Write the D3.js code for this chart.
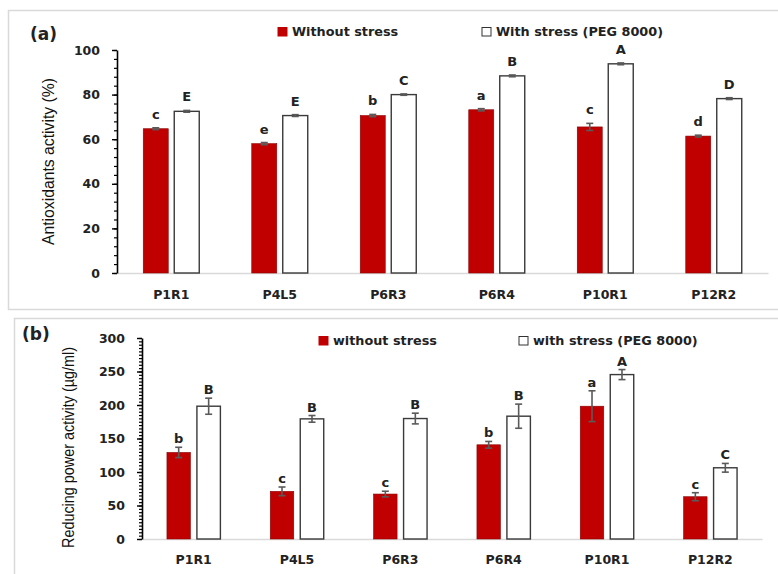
<!DOCTYPE html>
<html>
<head>
<meta charset="utf-8">
<script src="https://cdn.jsdelivr.net/npm/d3@7"></script>
<style>
  body { margin: 0; background: #fff; }
  svg { display: block; }
  .bold { font-family: "DejaVu Sans", "Open Sans", sans-serif; font-weight: bold; fill: #222; }
  .ylab { font-family: "Liberation Sans Narrow", "Liberation Sans", "Open Sans", sans-serif; fill: #111; }
</style>
</head>
<body>
<svg id="chart" width="778" height="574"></svg>
<script>
// ---------------- DATA ----------------
const categories = ["P1R1", "P4L5", "P6R3", "P6R4", "P10R1", "P12R2"];
const seriesA = ["Without stress", "With stress (PEG 8000)"];
const seriesB = ["without stress", "with stress (PEG 8000)"];

// Panel (a): Antioxidants activity (%)
const aWithout     = [64.7, 58.0, 70.6, 73.2, 65.5, 61.4];
const aWithoutErr  = [0.4, 0.5, 0.5, 0.5, 1.6, 0.4];
const aWith        = [72.5, 70.6, 80.0, 88.4, 93.8, 78.2];
const aWithErr     = [0.4, 0.4, 0.3, 0.4, 0.4, 0.4];
const aWithoutLetters = ["c", "e", "b", "a", "c", "d"];
const aWithLetters    = ["E", "E", "C", "B", "A", "D"];
const aTicks = [0, 20, 40, 60, 80, 100];

// Panel (b): Reducing power activity (µg/ml)
const bWithout     = [129.2, 71.1, 67.1, 140.6, 198.2, 63.1];
const bWithoutErr  = [7.7, 6.5, 4.2, 5.0, 23.0, 6.0];
const bWith        = [198.2, 179.3, 179.8, 183.3, 245.4, 106.3];
const bWithErr     = [12.0, 5.0, 8.0, 18.0, 7.5, 6.5];
const bWithoutLetters = ["b", "c", "c", "b", "a", "c"];
const bWithLetters    = ["B", "B", "B", "B", "A", "C"];
const bTicks = [0, 50, 100, 150, 200, 250, 300];

const RED = "#C00000";
const svg = d3.select("#chart");

// panel borders
svg.append("rect").attr("x", 8.5).attr("y", 10.5).attr("width", 800).attr("height", 299)
  .attr("fill", "none").attr("stroke", "#d9d9d9").attr("stroke-width", 1.5);
svg.append("rect").attr("x", 14.5).attr("y", 318.5).attr("width", 800).attr("height", 300)
  .attr("fill", "none").attr("stroke", "#d9d9d9").attr("stroke-width", 1.5);

function panel(cfg) {
  const g = svg.append("g");
  const x = d3.scaleBand().domain(categories).range(cfg.xRange);
  const xs = d3.scaleBand().domain([0, 1]).range([0, x.bandwidth()])
    .paddingInner(cfg.pi).paddingOuter(cfg.po);
  const y = d3.scaleLinear().domain(cfg.domain).range(cfg.yRange);

  // x axis baseline (gray) + labels
  const xAxis = d3.axisBottom(x).tickSize(0).tickPadding(cfg.xPad);
  const xg = g.append("g").attr("transform", `translate(0,${cfg.yRange[0]})`).call(xAxis);
  xg.select(".domain").attr("stroke", "#d9d9d9").attr("stroke-width", 1.5);
  xg.selectAll("text").attr("class", "bold").style("font-size", "12.5px");

  const rows = categories.map((c, i) => ({
    c,
    vals: [
      { s: 0, v: cfg.without[i], e: cfg.withoutErr[i], l: cfg.withoutLetters[i] },
      { s: 1, v: cfg.with[i], e: cfg.withErr[i], l: cfg.withLetters[i] }
    ]
  }));

  const grp = g.selectAll(".grp").data(rows).join("g")
    .attr("transform", d => `translate(${x(d.c)},0)`);

  grp.selectAll("rect").data(d => d.vals).join("rect")
    .attr("x", d => xs(d.s))
    .attr("width", xs.bandwidth())
    .attr("y", d => y(d.v))
    .attr("height", d => y(0) - y(d.v))
    .attr("fill", d => d.s === 0 ? RED : "#fff")
    .attr("stroke", d => d.s === 0 ? "#8a0000" : "#3a3a3a")
    .attr("stroke-width", d => d.s === 0 ? 0.6 : 1.4);

  // error bars
  const eb = grp.selectAll(".eb").data(d => d.vals).join("g").attr("class", "eb")
    .attr("stroke", "#5a5a5a").attr("stroke-width", 1.6);
  eb.append("line")
    .attr("x1", d => xs(d.s) + xs.bandwidth() / 2).attr("x2", d => xs(d.s) + xs.bandwidth() / 2)
    .attr("y1", d => y(d.v - d.e)).attr("y2", d => y(d.v + d.e));
  eb.append("line")
    .attr("x1", d => xs(d.s) + xs.bandwidth() / 2 - 3.5).attr("x2", d => xs(d.s) + xs.bandwidth() / 2 + 3.5)
    .attr("y1", d => y(d.v + d.e)).attr("y2", d => y(d.v + d.e));
  eb.append("line")
    .attr("x1", d => xs(d.s) + xs.bandwidth() / 2 - 3.5).attr("x2", d => xs(d.s) + xs.bandwidth() / 2 + 3.5)
    .attr("y1", d => y(d.v - d.e)).attr("y2", d => y(d.v - d.e));

  // letters
  grp.selectAll(".lt").data(d => d.vals).join("text").attr("class", "bold lt")
    .attr("x", d => xs(d.s) + xs.bandwidth() / 2)
    .attr("y", d => y(d.v + d.e) - cfg.letterGap)
    .attr("text-anchor", "middle")
    .style("font-size", "13px")
    .text(d => d.l);

  // y axis: minor ticks
  const minor = d3.range(cfg.domain[0], cfg.domain[1] + 0.001, cfg.minorStep);
  const ym = g.append("g").attr("transform", `translate(${cfg.xRange[0]},0)`)
    .call(d3.axisLeft(y).tickValues(minor).tickSize(3).tickFormat(""));
  ym.select(".domain").remove();
  ym.selectAll("line").attr("stroke", "#000").attr("stroke-width", 1.2);
  // y axis: major
  const ya = g.append("g").attr("transform", `translate(${cfg.xRange[0]},0)`)
    .call(d3.axisLeft(y).tickValues(cfg.ticks).tickSize(5).tickSizeOuter(0).tickPadding(12));
  ya.select(".domain").attr("stroke", "#000").attr("stroke-width", 1.6);
  ya.selectAll("line").attr("stroke", "#000").attr("stroke-width", 1.4);
  ya.selectAll("text").attr("class", "bold").style("font-size", "12.5px");

  // y label
  g.append("text").attr("class", "ylab")
    .attr("transform", `translate(${cfg.yLabX},${(cfg.yRange[0] + cfg.yRange[1]) / 2 + cfg.yLabShift}) rotate(-90)`)
    .attr("text-anchor", "middle").attr("dy", "0.35em")
    .attr("textLength", cfg.yLabLen).attr("lengthAdjust", "spacingAndGlyphs")
    .style("font-size", "16px")
    .text(cfg.yLabel);

  // panel tag
  g.append("text").attr("class", "bold").attr("x", cfg.tag[0]).attr("y", cfg.tag[1])
    .style("font-size", "17px").text(cfg.tagText);

  // legend
  cfg.series.forEach((s, i) => {
    const lx = cfg.legend[i], ly = cfg.legendY;
    g.append("rect").attr("x", lx).attr("y", ly - 8.5).attr("width", 9).attr("height", 8.5)
      .attr("fill", i === 0 ? RED : "#fff").attr("stroke", i === 0 ? RED : "#333").attr("stroke-width", 1);
    g.append("text").attr("class", "bold").attr("x", lx + 14).attr("y", ly)
      .style("font-size", "12.8px").text(s);
  });
}

panel({
  xRange: [117, 768], pi: 6 / 31, po: 0.847,
  domain: [0, 100], yRange: [273, 50], ticks: aTicks, minorStep: 4,
  without: aWithout, withoutErr: aWithoutErr, with: aWith, withErr: aWithErr,
  withoutLetters: aWithoutLetters, withLetters: aWithLetters,
  letterGap: 9, xPad: 17,
  yLabel: "Antioxidants activity (%)", yLabX: 48, yLabShift: 0, yLabLen: 167,
  tag: [30, 40], tagText: "(a)",
  series: seriesA, legend: [278, 482], legendY: 36
});

panel({
  xRange: [142, 762], pi: 6.5 / 30, po: 0.832,
  domain: [0, 300], yRange: [539, 338], ticks: bTicks, minorStep: 5,
  without: bWithout, withoutErr: bWithoutErr, with: bWith, withErr: bWithErr,
  withoutLetters: bWithoutLetters, withLetters: bWithLetters,
  letterGap: 4, xPad: 16,
  yLabel: "Reducing power activity (µg/ml)", yLabX: 68, yLabShift: 9, yLabLen: 201,
  tag: [22, 340], tagText: "(b)",
  series: seriesB, legend: [319, 519], legendY: 345
});
</script>
</body>
</html>
